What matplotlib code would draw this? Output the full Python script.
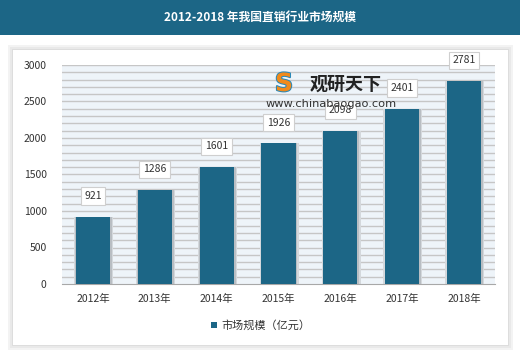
import matplotlib.pyplot as plt
from matplotlib.patches import Rectangle
import matplotlib.patheffects as pe

plt.rcParams["font.family"] = ["Noto Sans CJK SC", "DejaVu Sans"]

# ── Data ─────────────────────────────────────────────────────
years  = ["2012年", "2013年", "2014年", "2015年", "2016年", "2017年", "2018年"]
values = [921, 1286, 1601, 1926, 2098, 2401, 2781]
yticks = [0, 500, 1000, 1500, 2000, 2500, 3000]

TITLE  = "2012-2018 年我国直销行业市场规模"
LEGEND = "市场规模（亿元）"
BAR_C  = "#1c6686"

W, H = 520, 357
fig = plt.figure(figsize=(W / 100, H / 100), dpi=100)
fig.patch.set_facecolor("white")


def fig_rect(x0, y0, x1, y1, color, z):
    """Rectangle in pixel coords measured from the top-left corner."""
    fig.patches.append(Rectangle((x0 / W, 1 - y1 / H), (x1 - x0) / W, (y1 - y0) / H,
                                 transform=fig.transFigure, facecolor=color,
                                 edgecolor="none", zorder=z))


# ── Title banner ─────────────────────────────────────────────
fig_rect(0, 0, W, 35, BAR_C, -5)
fig.text(0.5, 1 - 17.5 / H, TITLE, color="white", fontsize=8.5, fontweight="bold",
         ha="center", va="center")

# ── Panel with soft shadow ───────────────────────────────────
px0, px1, py0, py1 = 13, 508, 50, 345
for off, col, z in [(5, "#f3f3f3", -5), (3, "#e9e9e9", -4), (1, "#dddddd", -3)]:
    fig_rect(px0 - off, py0 - off, px1 + off, py1 + off, col, z)
fig_rect(px0, py0, px1, py1, "white", -2)

# ── Plot area ────────────────────────────────────────────────
ax_l, ax_r, ax_t, ax_b = 62, 495, 65, 284
ax = fig.add_axes([ax_l / W, 1 - ax_b / H, (ax_r - ax_l) / W, (ax_b - ax_t) / H])
ax.set_zorder(1)
ax.set_facecolor("#eef4f9")

x = range(len(years))
for yy in range(100, 3001, 100):
    ax.axhline(yy, color="#c6c6c6", lw=1.0, zorder=1)

# soft bar shadows
ax.bar([i + 0.012 for i in x], values, width=0.63, color="#d4d8dc", zorder=2)
ax.bar([i + 0.012 for i in x], values, width=0.59, color="#b9bec3", zorder=2)
bars = ax.bar(x, values, width=0.55, color=BAR_C, edgecolor="none", zorder=3)

for b, v in zip(bars, values):
    ax.annotate(str(v), (b.get_x() + b.get_width() / 2, v), xytext=(0, 15),
                textcoords="offset points", ha="center", va="center",
                fontsize=7.5, color="#333333", zorder=5,
                bbox=dict(boxstyle="square,pad=0.35", fc="white", ec="#cfcfcf", lw=0.8))

ax.set_xlim(-0.5, len(years) - 0.5)
ax.set_ylim(0, 3000)
ax.set_yticks(yticks)
ax.set_xticks(list(x))
ax.set_xticklabels(years)
ax.tick_params(axis="both", length=0, labelsize=7.5, colors="#333333")
ax.tick_params(axis="x", pad=7)
ax.tick_params(axis="y", pad=11)
for s in ["top", "right", "left"]:
    ax.spines[s].set_visible(False)
ax.spines["bottom"].set_color("#a8a8a8")

# ── Watermark ────────────────────────────────────────────────
fig.text(310 / W, 1 - 84 / H, "观研天下", fontsize=13, fontweight="bold",
         color="#222222", ha="left", va="center", zorder=6)
fig.text(266 / W, 1 - 104 / H, "www.chinabaogao.com", fontsize=8.2,
         color="#333333", ha="left", va="center", zorder=6, family="DejaVu Sans")
fig.text(284 / W, 1 - 84 / H, "S", fontsize=18, fontweight="bold",
         color="#f08a1c", ha="center", va="center", zorder=6, family="DejaVu Sans",
         path_effects=[pe.withStroke(linewidth=1.5, foreground="#2a88b8")])

# ── Legend ───────────────────────────────────────────────────
fig_rect(196, 314, 314, 336, "white", 2)
fig_rect(211, 322, 217, 328, BAR_C, 3)
fig.text(221 / W, 1 - 325 / H, LEGEND, fontsize=8, color="#333333",
         ha="left", va="center", zorder=4)

fig.savefig("out.png", dpi=100)
